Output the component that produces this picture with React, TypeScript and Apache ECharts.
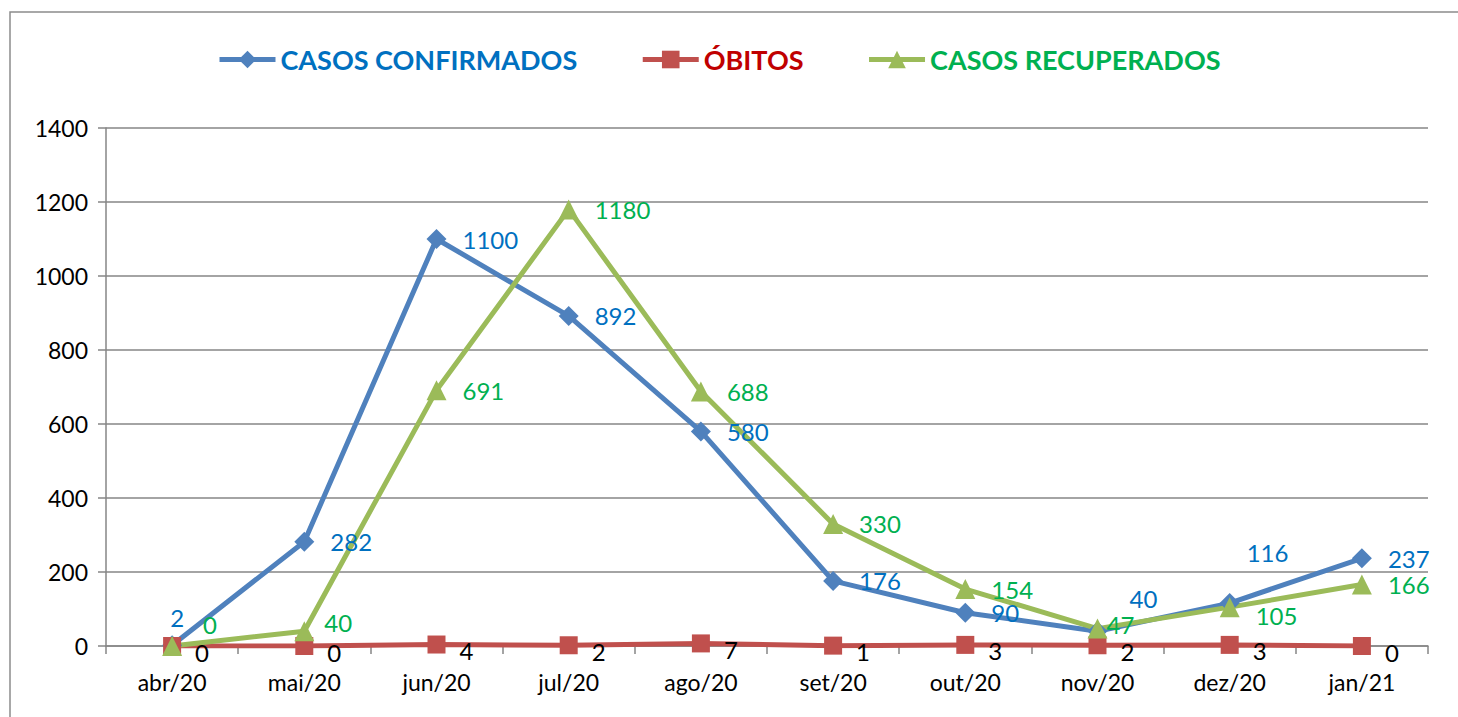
import React, { useEffect, useRef } from "react";
import * as echarts from "echarts";

const categories = ["abr/20", "mai/20", "jun/20", "jul/20", "ago/20", "set/20", "out/20", "nov/20", "dez/20", "jan/21"];
const confirmados = [2, 282, 1100, 892, 580, 176, 90, 40, 116, 237];
const obitos = [0, 0, 4, 2, 7, 1, 3, 2, 3, 0];
const recuperados = [0, 40, 691, 1180, 688, 330, 154, 47, 105, 166];
const yTicks = { min: 0, max: 1400, interval: 200 };

const confOffsets: Record<number, any> = {
  0: { position: "top", distance: 6, offset: [5, 0] },
  7: { offset: [6, -33] },
  8: { offset: [-9, -51] },
};
const recOffsets: Record<number, any> = {
  0: { offset: [5, -22] },
  1: { offset: [-6, -9] },
  7: { offset: [-17, -4] },
  8: { offset: [0, 8] },
};

const FONT = "Lato, 'Open Sans', sans-serif";

export default function App() {
  const ref = useRef<HTMLDivElement>(null);
  useEffect(() => {
    if (!ref.current) return;
    const chart = echarts.init(ref.current, undefined, { renderer: "svg" });
    const gray = "#868686";
    chart.setOption({
      animation: false,
      backgroundColor: "#ffffff",
      textStyle: { fontFamily: FONT },
      graphic: [
        {
          type: "rect",
          shape: { x: 10, y: 12, width: 1600, height: 900 },
          style: { fill: "none", stroke: "#8c8c8c", lineWidth: 1.5 },
          silent: true,
          z: -10,
        },
      ],
      legend: {
        left: 212,
        top: 41,
        itemWidth: 56,
        itemHeight: 22,
        itemGap: 63,
        lineStyle: { width: 5 },
        textStyle: { fontSize: 27, fontWeight: "bold", fontFamily: FONT },
        data: [
          { name: "CASOS CONFIRMADOS", textStyle: { color: "#0070C0" } },
          { name: "ÓBITOS", textStyle: { color: "#C00000" } },
          { name: "CASOS RECUPERADOS", textStyle: { color: "#00B050" } },
        ],
      },
      grid: { left: 106, right: 30, top: 128, bottom: 71, containLabel: false },
      xAxis: {
        type: "category",
        data: categories,
        boundaryGap: true,
        axisLine: { lineStyle: { color: gray, width: 1.5 } },
        axisTick: { show: true, length: 8, interval: 0, lineStyle: { color: gray, width: 1.5 } },
        axisLabel: { color: "#000", fontSize: 23, margin: 24, fontFamily: FONT },
      },
      yAxis: {
        type: "value",
        min: yTicks.min,
        max: yTicks.max,
        interval: yTicks.interval,
        axisLine: { show: true, lineStyle: { color: gray, width: 1.5 } },
        axisTick: { show: true, length: 8, lineStyle: { color: gray, width: 1.5 } },
        axisLabel: { color: "#000", fontSize: 23, margin: 18, fontFamily: FONT, formatter: (v: number) => String(v) },
        splitLine: { lineStyle: { color: gray, width: 1.5 } },
      },
      series: [
        {
          name: "CASOS CONFIRMADOS",
          type: "line",
          symbol: "diamond",
          symbolSize: 20,
          lineStyle: { color: "#4F81BD", width: 5 },
          itemStyle: { color: "#4F81BD" },
          label: { show: true, position: "right", distance: 16, color: "#0070C0", fontSize: 24, fontFamily: FONT },
          data: confirmados.map((v, i) => (confOffsets[i] ? { value: v, label: confOffsets[i] } : v)),
        },
        {
          name: "ÓBITOS",
          type: "line",
          symbol: "rect",
          symbolSize: 18,
          lineStyle: { color: "#C0504D", width: 5 },
          itemStyle: { color: "#C0504D" },
          label: { show: true, position: "right", distance: 14, offset: [0, 6], color: "#000", fontSize: 24, fontFamily: FONT },
          data: obitos,
        },
        {
          name: "CASOS RECUPERADOS",
          type: "line",
          symbol: "triangle",
          symbolSize: 20,
          lineStyle: { color: "#9BBB59", width: 5 },
          itemStyle: { color: "#9BBB59" },
          label: { show: true, position: "right", distance: 16, color: "#00B050", fontSize: 24, fontFamily: FONT },
          data: recuperados.map((v, i) => (recOffsets[i] ? { value: v, label: recOffsets[i] } : v)),
        },
      ],
    });
    return () => chart.dispose();
  }, []);
  return (
    <div
      ref={ref}
      style={{ position: "fixed", left: 0, top: 0, width: 1458, height: 717, background: "#fff" }}
    />
  );
}
